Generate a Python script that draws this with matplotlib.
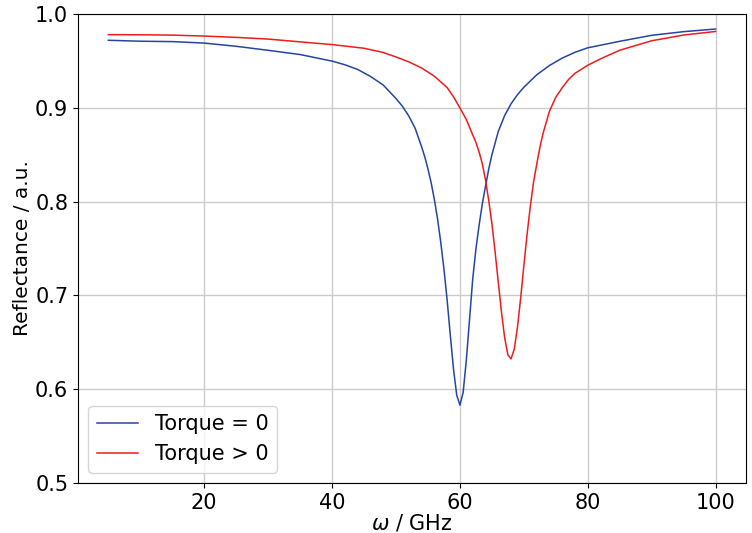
import numpy as np
import matplotlib
matplotlib.use("Agg")
import matplotlib.pyplot as plt

# values
omega_0 = [5, 10, 15, 20, 25, 30, 35, 40, 42, 44, 46, 48, 50, 51, 52, 53, 54,
           54.5, 55, 55.5, 56, 56.5, 57, 57.5, 58, 58.5, 59, 59.5, 60, 60.5,
           61, 61.5, 62, 62.5, 63, 63.5, 64, 64.5, 65, 66, 67, 68, 69, 70,
           72, 74, 76, 78, 80, 85, 90, 95, 100]
refl_0 = [0.972, 0.971, 0.9706, 0.969, 0.9656, 0.9613, 0.9568, 0.9498,
          0.9459, 0.9409, 0.9335, 0.9243, 0.9099, 0.9017, 0.8913, 0.8781,
          0.8585, 0.8478, 0.8348, 0.8201, 0.8022, 0.7816, 0.7567, 0.7282,
          0.695, 0.6573, 0.6212, 0.5936, 0.583, 0.5964, 0.6308, 0.674,
          0.7174, 0.7493, 0.7748, 0.7975, 0.8163, 0.8345, 0.8499, 0.8748,
          0.8918, 0.9043, 0.914, 0.9219, 0.9351, 0.9451, 0.953, 0.9592,
          0.964, 0.9709, 0.9773, 0.9812, 0.984]

omega_1 = [5, 10, 15, 20, 25, 30, 35, 40, 45, 48, 50, 52, 54, 56, 58, 59, 60,
           61, 62, 62.5, 63, 63.5, 64, 64.5, 65, 65.5, 66, 66.5, 67, 67.5,
           68, 68.5, 69, 69.5, 70, 70.5, 71, 71.5, 72, 72.5, 73, 74, 75, 76,
           77, 78, 80, 82, 85, 90, 95, 100]
refl_1 = [0.978, 0.9779, 0.9775, 0.9765, 0.9751, 0.9733, 0.9703, 0.9674,
          0.9635, 0.959, 0.9542, 0.949, 0.9425, 0.9337, 0.9216, 0.9117,
          0.8999, 0.8875, 0.8712, 0.8633, 0.8528, 0.8404, 0.8232, 0.8015,
          0.7768, 0.7466, 0.714, 0.6823, 0.6548, 0.6367, 0.6323, 0.6428,
          0.666, 0.6971, 0.7315, 0.7648, 0.7943, 0.8201, 0.8393, 0.8574,
          0.8727, 0.8963, 0.9113, 0.9214, 0.9303, 0.9368, 0.9454, 0.9522,
          0.9614, 0.9715, 0.9776, 0.9814]

labels = ['Torque = 0', 'Torque > 0']

plt.rcParams['font.size'] = 13

fig = plt.figure(figsize=(7.52, 5.33), dpi=100)
ax = fig.add_axes([0.1037, 0.0938, 0.8883, 0.8799])

ax.plot(omega_0, refl_0, color='#2446a0', lw=1.1, label=labels[0])
ax.plot(omega_1, refl_1, color='#ee1c1c', lw=1.1, label=labels[1])

ax.set_ylim(0.5, 1.0)
ax.set_xticks([20, 40, 60, 80, 100])
ax.set_yticks([0.5, 0.6, 0.7, 0.8, 0.9, 1.0])
ax.grid(True, color='#cccccc', lw=1)
ax.set_axisbelow(True)
ax.tick_params(labelsize=15)
ax.set_xlabel(r'$\omega$ / GHz', fontsize=15, labelpad=0)
ax.set_ylabel('Reflectance / a.u.', fontsize=14.5, labelpad=2)
ax.legend(loc='lower left', fontsize=15)

fig.savefig('out.png', dpi=100)
